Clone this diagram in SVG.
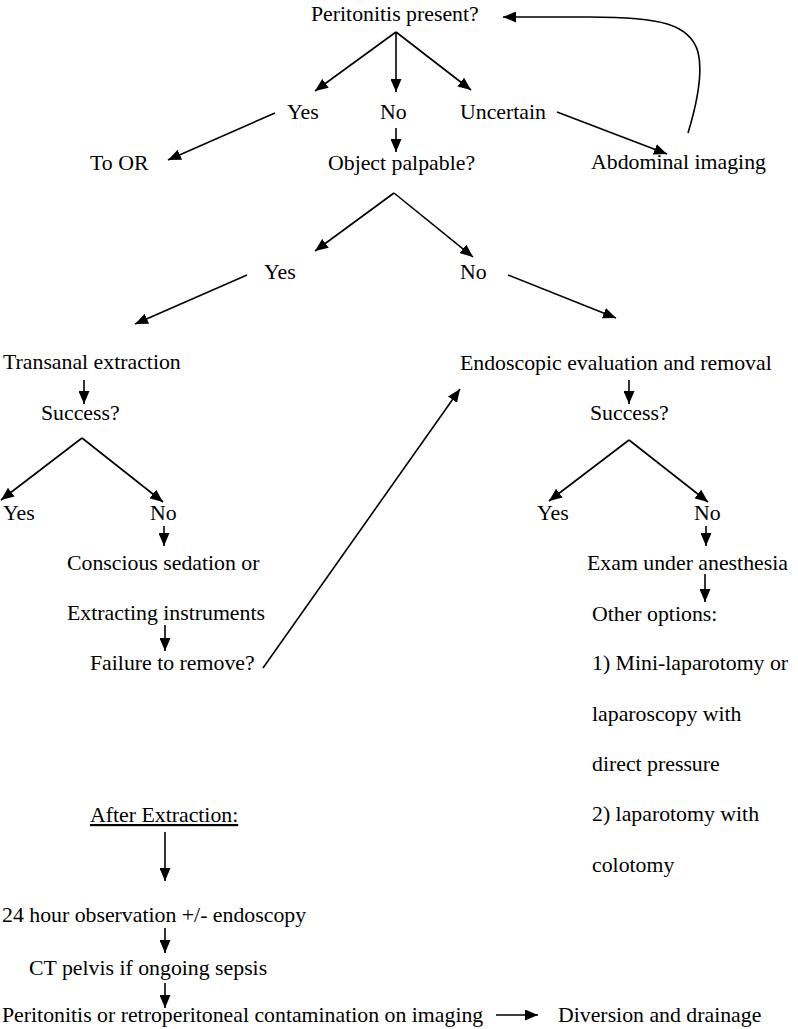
<svg xmlns="http://www.w3.org/2000/svg" width="798" height="1029" viewBox="0 0 798 1029">
<defs>
<marker id="ah" markerWidth="13" markerHeight="11" refX="13" refY="5.5" orient="auto" markerUnits="userSpaceOnUse"><path d="M0,0 L13,5.5 L0,11 z" fill="#000"/></marker>
<style>
text{font-family:"Liberation Serif","Times New Roman",serif;font-size:21.8px;fill:#000}
.c line,.c path{stroke:#000;stroke-width:1.6;fill:none;marker-end:url(#ah)}
</style>
</defs>
<rect width="798" height="1029" fill="#fff"/>
<g id="n-peritonitis"><text x="311" y="21">Peritonitis present?</text></g>
<g id="n-yes1"><text x="287" y="119">Yes</text></g>
<g id="n-no1"><text x="380" y="119">No</text></g>
<g id="n-uncertain"><text x="460" y="119">Uncertain</text></g>
<g id="n-toor"><text x="90" y="170">To OR</text></g>
<g id="n-object"><text x="328" y="170">Object palpable?</text></g>
<g id="n-imaging"><text x="591" y="169">Abdominal imaging</text></g>
<g id="n-yes2"><text x="264" y="279">Yes</text></g>
<g id="n-no2"><text x="460" y="279">No</text></g>
<g id="n-transanal"><text x="3" y="369">Transanal extraction</text></g>
<g id="n-endoscopic"><text x="460" y="370">Endoscopic evaluation and removal</text></g>
<g id="n-success1"><text x="41" y="420">Success?</text></g>
<g id="n-success2"><text x="590" y="420">Success?</text></g>
<g id="n-yes3"><text x="3" y="520">Yes</text></g>
<g id="n-no3"><text x="150" y="520">No</text></g>
<g id="n-yes4"><text x="537" y="520">Yes</text></g>
<g id="n-no4"><text x="694" y="520">No</text></g>
<g id="n-conscious"><text x="67" y="570">Conscious sedation or</text><text x="67" y="620">Extracting instruments</text></g>
<g id="n-exam"><text x="587" y="570">Exam under anesthesia</text></g>
<g id="n-failure"><text x="90" y="670">Failure to remove?</text></g>
<g id="n-options"><text x="592" y="621">Other options:</text><text x="592" y="670">1) Mini-laparotomy or</text><text x="592" y="721">laparoscopy with</text><text x="592" y="771">direct pressure</text><text x="592" y="821">2) laparotomy with</text><text x="592" y="872">colotomy</text></g>
<g id="n-after"><text x="90" y="822" text-decoration="underline">After Extraction:</text></g>
<g id="n-24h"><text x="2" y="922">24 hour observation +/- endoscopy</text></g>
<g id="n-ct"><text x="29" y="975">CT pelvis if ongoing sepsis</text></g>
<g id="n-contam"><text x="2" y="1022">Peritonitis or retroperitoneal contamination on imaging</text></g>
<g id="n-diversion"><text x="558" y="1022">Diversion and drainage</text></g>
<g id="connectors" class="c">
<line x1="396" y1="32" x2="315" y2="91"/>
<line x1="396" y1="32" x2="396" y2="92"/>
<line x1="396" y1="32" x2="471" y2="90"/>
<line x1="275" y1="113" x2="168" y2="160"/>
<line x1="396" y1="128" x2="396" y2="152"/>
<line x1="557" y1="112" x2="667" y2="154"/>
<path d="M688,133 C698,100 703,72 698,52 C690,24 660,17 590,17 L503,17"/>
<line x1="394" y1="193" x2="315" y2="251"/>
<line x1="394" y1="193" x2="473" y2="257"/>
<line x1="247" y1="275" x2="135" y2="324"/>
<line x1="508" y1="275" x2="616" y2="318"/>
<line x1="84" y1="380" x2="84" y2="404"/>
<line x1="629" y1="380" x2="629" y2="404"/>
<line x1="82" y1="438" x2="1" y2="500"/>
<line x1="82" y1="438" x2="163" y2="502"/>
<line x1="629" y1="440" x2="549" y2="501"/>
<line x1="629" y1="440" x2="708" y2="502"/>
<line x1="164" y1="526" x2="164" y2="546"/>
<line x1="706" y1="526" x2="706" y2="546"/>
<line x1="165" y1="625" x2="165" y2="651"/>
<line x1="705" y1="574" x2="705" y2="602"/>
<line x1="263" y1="668" x2="460" y2="389"/>
<line x1="165" y1="832" x2="165" y2="881"/>
<line x1="165" y1="928" x2="165" y2="953"/>
<line x1="165" y1="983" x2="165" y2="1008"/>
<line x1="496" y1="1015" x2="538" y2="1015"/>
</g>
</svg>
